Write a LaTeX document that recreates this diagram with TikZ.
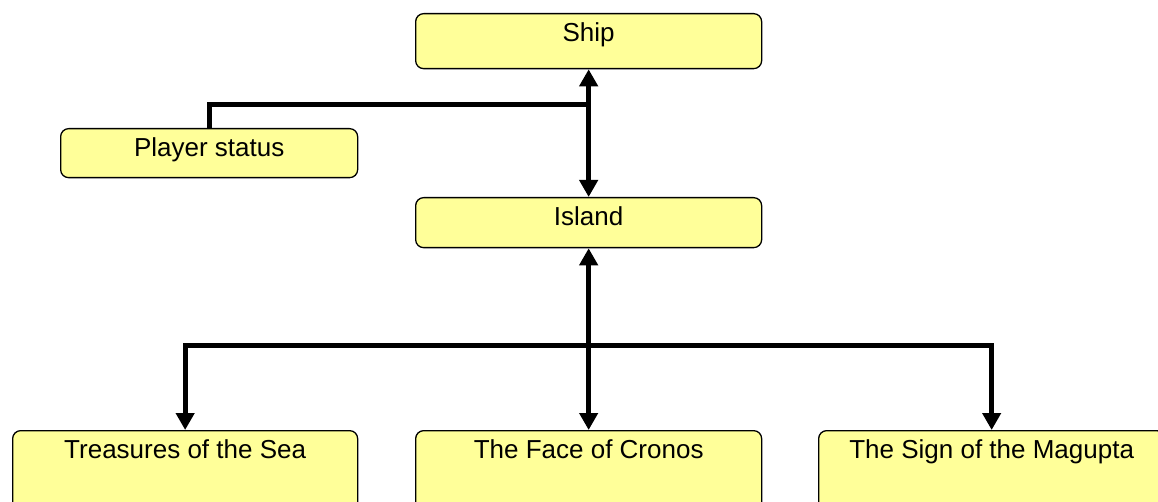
\documentclass[tikz,border=0pt]{standalone}
\usepackage{fontspec}
\setmainfont{Liberation Sans}
\usetikzlibrary{arrows.meta}
\definecolor{boxyellow}{RGB}{255,255,153}
\tikzset{
  box/.style={draw=black, line width=1.3pt, fill=boxyellow, rounded corners=8pt,
    inner sep=0pt, text height=28pt, anchor=north west,
    font=\fontsize{26}{30}\selectfont},
  conn/.style={line width=5pt, draw=black},
  tip/.style={-{Triangle[length=17pt,width=18pt]}},
  tips/.style={{Triangle[length=17pt,width=18pt]}-{Triangle[length=17pt,width=18pt]}}
}
\begin{document}
\begin{tikzpicture}[x=1pt,y=-1pt]
\clip (0,0) rectangle (1158,502);
\fill[white] (0,0) rectangle (1158,502);
\node[box, minimum width=346pt, text depth=27pt] (ship) at (415,13) {Ship};
\node[box, minimum width=297pt, text depth=21pt] (player) at (60,128) {Player status};
\node[box, minimum width=346pt, text depth=22pt] (island) at (415,197) {Island};
\node[box, minimum width=345pt, text depth=62pt] (sea) at (12,430) {Treasures of the Sea};
\node[box, minimum width=346pt, text depth=62pt] (face) at (415,430) {The Face of Cronos};
\node[box, minimum width=346pt, text depth=62pt] (sign) at (818,430) {The Sign of the Magupta};
\coordinate (j1) at (588,105);
\coordinate (j2) at (588,345);
\draw[conn, tips] (ship.south) -- (island.north);
\draw[conn] (player.north) |- (j1);
\draw[conn, tips] (island.south) -- (face.north);
\draw[conn, tip] (j2) -| (sea.north);
\draw[conn, tip] (j2) -| (sign.north);
\end{tikzpicture}
\end{document}
